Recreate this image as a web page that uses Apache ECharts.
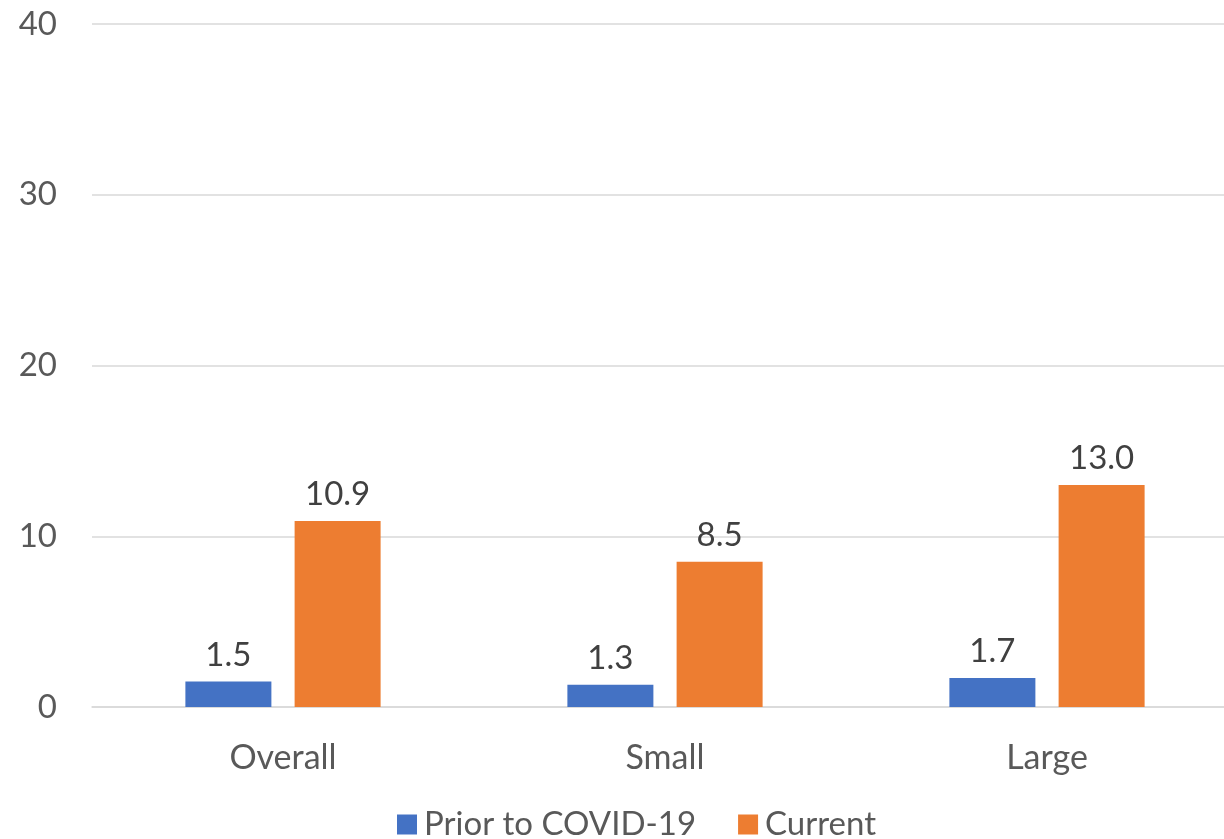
<!DOCTYPE html>
<html>
<head>
<meta charset="utf-8">
<script src="https://cdn.jsdelivr.net/npm/echarts@6/dist/echarts.min.js"></script>
<style>
  html, body { margin: 0; padding: 0; background: #fff; }
  #main { width: 1224px; height: 839px; }
</style>
</head>
<body>
<div id="main"></div>
<script>
// values
const categories = ['Overall', 'Small', 'Large'];
const priorValues = [1.5, 1.3, 1.7];
const currentValues = [10.9, 8.5, 13.0];
const seriesNames = ['Prior to COVID-19', 'Current'];

const font = 'Lato, "Open Sans", sans-serif';

const myChart = echarts.init(document.getElementById('main'));

const labelStyle = {
  show: true,
  position: 'top',
  distance: 10,
  color: '#404040',
  fontSize: 33,
  fontFamily: font,
  formatter: p => p.value.toFixed(1)
};

const option = {
  animation: false,
  color: ['#4472C4', '#ED7D31'],
  grid: {
    left: 92,
    width: 1146,
    top: 24,
    bottom: 132,
    outerBoundsMode: 'none'
  },
  legend: {
    top: 808,
    left: 397,
    padding: 0,
    itemWidth: 20,
    itemHeight: 20,
    itemGap: 42,
    icon: 'rect',
    textStyle: { color: '#595959', fontSize: 33, fontFamily: font, padding: [0, 0, 0, 2] },
    data: seriesNames
  },
  xAxis: {
    type: 'category',
    data: categories,
    axisLine: { lineStyle: { color: '#d9d9d9', width: 1.5 } },
    axisTick: { show: false },
    axisLabel: { color: '#595959', fontSize: 34, fontFamily: font, margin: 34 }
  },
  yAxis: {
    type: 'value',
    min: 0,
    max: 40,
    interval: 10,
    axisLine: { show: false },
    axisTick: { show: false },
    splitLine: { lineStyle: { color: '#d9d9d9', width: 1.5 } },
    axisLabel: { color: '#595959', fontSize: 33, fontFamily: font, margin: 35 }
  },
  series: [
    {
      name: seriesNames[0],
      type: 'bar',
      barWidth: 86,
      barGap: '27%',
      data: priorValues,
      label: labelStyle
    },
    {
      name: seriesNames[1],
      type: 'bar',
      barWidth: 86,
      barGap: '27%',
      data: currentValues,
      label: labelStyle
    }
  ]
};

myChart.setOption(option);
</script>
</body>
</html>
